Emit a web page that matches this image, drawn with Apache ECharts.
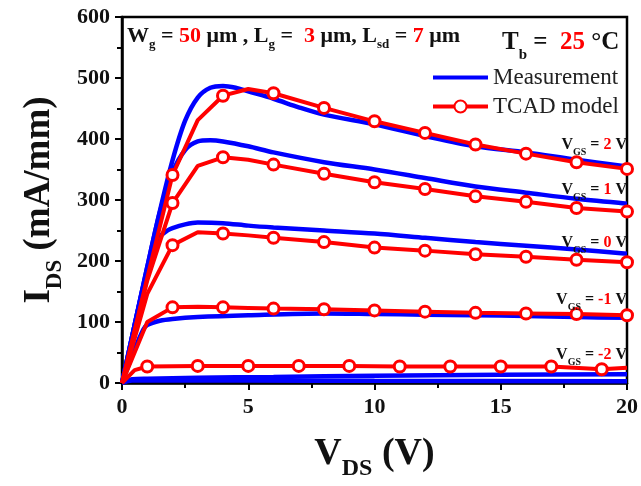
<!DOCTYPE html>
<html>
<head>
<meta charset="utf-8">
<script src="https://cdn.jsdelivr.net/npm/echarts@6/dist/echarts.min.js"></script>
<style>
html, body { margin: 0; padding: 0; background: #fff; }
#main { width: 641px; height: 486px; }
</style>
</head>
<body>
<div id="main"></div>
<script>
// Measurement curves (V_DS in V, I_DS in mA/mm)
const measX_p2 = [0, 0.5, 1, 1.5, 2, 2.5, 3, 3.5, 4, 4.5, 5, 6, 7, 8, 10, 12, 14, 16, 18, 20];
const measY_p2 = [0, 95, 190, 282, 365, 430, 468, 484, 487, 484, 478, 466, 452, 440, 424, 405, 388, 378, 366, 355];
const measX_p1 = [0, 0.5, 1, 1.5, 2, 2.5, 3, 3.5, 4, 5, 6, 8, 10, 12, 14, 16, 18, 20];
const measY_p1 = [0, 95, 190, 280, 345, 382, 396, 398, 396, 388, 378, 362, 350, 336, 322, 312, 302, 294];
const measX_0 = [0, 0.5, 1, 1.25, 1.5, 1.8, 2, 2.5, 3, 4, 5, 6, 8, 10, 12, 14, 16, 18, 20];
const measY_0 = [0, 95, 185, 222, 240, 250, 254, 260, 263, 262, 258, 255, 250, 245, 238, 231, 225, 219, 212];
const measX_m1 = [0, 0.5, 0.85, 1, 1.5, 2, 3, 5, 8, 10, 12, 14, 16, 18, 20];
const measY_m1 = [0, 55, 88, 95, 102, 105, 108, 111, 114, 113, 112, 111, 110, 108, 107];
const measX_m2a = [0, 0.4, 1, 3, 6, 10, 15, 20];
const measY_m2a = [0, 6, 7, 8.5, 10, 12, 13.5, 14.5];
const measX_m2b = [0, 0.4, 1, 5, 10, 20];
const measY_m2b = [0, 4, 4, 4, 3.5, 3];

// TCAD model curves
const tcadX = [0, 1, 2, 3, 4, 5, 6, 8, 10, 12, 14, 16, 18, 20];
const tcadY_p2 = [0, 172, 341, 431, 471, 482, 475, 451, 429, 410, 391, 376, 362, 351];
const tcadY_p1 = [0, 168, 295, 356, 370, 366, 358, 343, 329, 318, 306, 297, 287, 281];
const tcadY_0 = [0, 146, 226, 247, 245, 242, 238, 231, 222, 217, 211, 207, 202, 198];
const tcadY_m1 = [0, 100, 124, 125, 124, 123, 122, 121, 119, 117, 115, 114, 113, 111];
const tcadX_m2 = [0, 0.5, 1, 3, 5, 7, 9, 11, 13, 15, 17, 19, 20];
const tcadY_m2 = [0, 21, 27, 28, 28, 28, 28, 27, 27, 27, 27, 22.5, 25];
const marksEven = [2, 4, 6, 8, 10, 12, 14, 16, 18, 20];
const marksOdd = [1, 3, 5, 7, 9, 11, 13, 15, 17, 19];

const gateLabels = ['2', '1', '0', '-1', '-2'];
const xTicks = [0, 20, 5];
const yTicks = [0, 600, 100];

const SERIF = '"Liberation Serif", "Times New Roman", serif';
const BLUE = '#0000ff';
const RED = '#ff0000';
const INK = '#111';

const myChart = echarts.init(document.getElementById('main'));

const pairs = (xs, ys) => xs.map((x, i) => [x, ys[i]]);
const marked = (xs, ys, marks) => xs.map((x, i) => (
  marks.indexOf(x) >= 0 ? { value: [x, ys[i]] } : { value: [x, ys[i]], symbol: 'none' }
));

const measSeries = (xs, ys) => ({
  name: 'Measurement',
  type: 'line',
  data: pairs(xs, ys),
  smooth: 0.3,
  symbol: 'none',
  lineStyle: { color: BLUE, width: 4.5 },
  // transparent so the legend shows a plain line
  itemStyle: { color: 'rgba(0,0,0,0)' },
  z: 2
});

const tcadSeries = (xs, ys, marks) => ({
  name: 'TCAD model',
  type: 'line',
  data: marked(xs, ys, marks),
  symbol: 'circle',
  symbolSize: 11,
  showAllSymbol: true,
  lineStyle: { color: RED, width: 4 },
  itemStyle: { color: '#fff', borderColor: RED, borderWidth: 3 },
  z: 3
});

// rich text helper: main tokens and subscripts
const richSet = (size, lh, subSize) => ({
  b: { fontSize: size, lineHeight: lh, fontWeight: 'bold', fontFamily: SERIF, fill: INK },
  r: { fontSize: size, lineHeight: lh, fontWeight: 'bold', fontFamily: SERIF, fill: RED },
  s: { fontSize: subSize, lineHeight: subSize, fontWeight: 'bold', fontFamily: SERIF, fill: INK, verticalAlign: 'bottom' }
});

const gateTops = [133, 178, 231, 288, 343];
const gateText = gateLabels.map((v, i) => ({
  type: 'text',
  style: {
    x: 627, y: gateTops[i], align: 'right', verticalAlign: 'top',
    text: '{b|V}{s|GS}{b| = }{r|' + v + '}{b| V}',
    rich: richSet(16, 24, 10)
  },
  z: 10
}));

const option = {
  backgroundColor: '#fff',
  animation: false,
  grid: {
    left: 122, right: 11, top: 17, bottom: 96,
    show: true, borderColor: '#000', borderWidth: 2.5, backgroundColor: 'transparent'
  },
  legend: {
    data: ['Measurement', 'TCAD model'],
    orient: 'vertical',
    left: 431, top: 65,
    padding: 0,
    itemGap: 4,
    itemWidth: 55,
    itemHeight: 15,
    lineStyle: { width: 4 },
    textStyle: { fontFamily: SERIF, fontSize: 23, color: '#222', lineHeight: 25 }
  },
  xAxis: {
    type: 'value',
    min: xTicks[0], max: xTicks[1], interval: xTicks[2],
    name: '{a|V}{s|DS}{a| (V)}',
    nameLocation: 'middle',
    nameGap: 44,
    nameTextStyle: {
      rich: {
        a: { fontSize: 38, lineHeight: 54, fontWeight: 'bold', fontFamily: SERIF, color: INK },
        s: { fontSize: 24, lineHeight: 24, fontWeight: 'bold', fontFamily: SERIF, color: INK, verticalAlign: 'bottom' }
      }
    },
    axisLine: { lineStyle: { color: '#000', width: 2.5 } },
    axisTick: { inside: false, length: 7, lineStyle: { color: '#000', width: 2 } },
    minorTick: { show: true, splitNumber: 2, length: 5, lineStyle: { color: '#000', width: 2 } },
    axisLabel: { margin: 13, fontFamily: SERIF, fontWeight: 'bold', fontSize: 22, color: INK },
    splitLine: { show: false }
  },
  yAxis: {
    type: 'value',
    min: yTicks[0], max: yTicks[1], interval: yTicks[2],
    name: '{a|I}{s|DS}{a| (mA/mm)}',
    nameLocation: 'middle',
    nameRotate: 90,
    nameGap: 55,
    nameTextStyle: {
      rich: {
        a: { fontSize: 37, lineHeight: 54, fontWeight: 'bold', fontFamily: SERIF, color: INK },
        s: { fontSize: 23, lineHeight: 23, fontWeight: 'bold', fontFamily: SERIF, color: INK, verticalAlign: 'bottom' }
      }
    },
    axisLine: { show: true, lineStyle: { color: '#000', width: 2.5 } },
    axisTick: { show: true, inside: false, length: 7, lineStyle: { color: '#000', width: 2 } },
    minorTick: { show: true, splitNumber: 2, length: 5, lineStyle: { color: '#000', width: 2 } },
    axisLabel: { margin: 12, fontFamily: SERIF, fontWeight: 'bold', fontSize: 22, color: INK },
    splitLine: { show: false }
  },
  graphic: [
    {
      type: 'text',
      style: {
        x: 127, y: 21, verticalAlign: 'top',
        text: '{b|W}{s|g}{b| = }{r|50}{b| μm , L}{s|g}{b| =  }{r|3}{b| μm, L}{s|sd}{b| = }{r|7}{b| μm}',
        rich: richSet(22, 30, 13)
      },
      z: 10
    },
    {
      type: 'text',
      style: {
        x: 502, y: 23, verticalAlign: 'top',
        text: '{b|T}{s|b}{b| =  }{r|25}{b| °C}',
        rich: richSet(25, 40, 15)
      },
      z: 10
    }
  ].concat(gateText),
  series: [
    measSeries(measX_p2, measY_p2),
    measSeries(measX_p1, measY_p1),
    measSeries(measX_0, measY_0),
    measSeries(measX_m1, measY_m1),
    measSeries(measX_m2a, measY_m2a),
    measSeries(measX_m2b, measY_m2b),
    tcadSeries(tcadX, tcadY_p2, marksEven),
    tcadSeries(tcadX, tcadY_p1, marksEven),
    tcadSeries(tcadX, tcadY_0, marksEven),
    tcadSeries(tcadX, tcadY_m1, marksEven),
    tcadSeries(tcadX_m2, tcadY_m2, marksOdd)
  ]
};

myChart.setOption(option);
</script>
</body>
</html>
